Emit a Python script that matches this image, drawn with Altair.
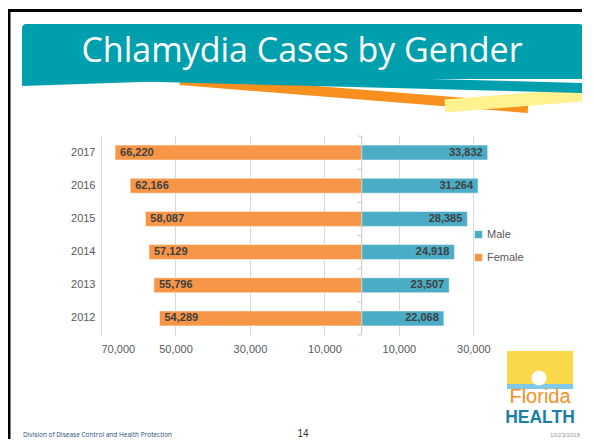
import altair as alt
import pandas as pd

years = ["2017", "2016", "2015", "2014", "2013", "2012"]
female = [66220, 62166, 58087, 57129, 55796, 54289]
male = [33832, 31264, 28385, 24918, 23507, 22068]
x_ticks = [-70000, -50000, -30000, -10000, 10000, 30000]
series = ["Male", "Female"]
colors = ["#4BACC6", "#F79646"]

rows = []
for y, f, m in zip(years, female, male):
    rows.append({"year": y, "sex": "Female", "value": -f, "label": f"{f:,}"})
    rows.append({"year": y, "sex": "Male", "value": m, "label": f"{m:,}"})
df = pd.DataFrame(rows)

# page -> plot coordinates (plot origin at page (101,136))
OX, OY = 101, 136
def px(v):
    return v - OX
def py(v):
    return v - OY

one = alt.Data(values=[{"k": 1}])
FONT = "Liberation Sans"

xscale = alt.Scale(domain=[-70000, 35000], nice=False, zero=False)
yscale = alt.Scale(paddingInner=0.55, paddingOuter=0.275)

X = alt.X("value:Q", scale=xscale,
          axis=alt.Axis(values=x_ticks, labelExpr="format(abs(datum.value), ',')",
                        grid=True, gridColor="#d9d9d9", domain=False, ticks=False,
                        labelFontSize=11, labelColor="#595959", labelFont=FONT,
                        labelPadding=8, title=None))
Y = alt.Y("year:N", sort=years, scale=yscale,
          axis=alt.Axis(domain=False, ticks=False, labelPadding=6, labelFontSize=11,
                        labelColor="#595959", labelFont=FONT, title=None, grid=False))

base = alt.Chart(df)

bars = base.mark_bar(stroke="#ffffff", strokeOpacity=0.5, strokeWidth=1).encode(
    x=X, x2=alt.datum(0), y=Y,
    color=alt.Color("sex:N", scale=alt.Scale(domain=series, range=colors),
                    legend=alt.Legend(title=None, orient="none", legendX=px(473), legendY=py(229),
                                      symbolType="square", symbolSize=55, symbolStrokeWidth=0,
                                      labelFontSize=11, labelColor="#595959", labelFont=FONT,
                                      rowPadding=11, padding=0, labelOffset=3)),
)

lab_f = base.transform_filter(alt.datum.sex == "Female").mark_text(
    align="left", dx=5, fontWeight="bold", fontSize=11, font=FONT, color="#404040"
).encode(x=alt.X("value:Q", scale=xscale), y=alt.Y("year:N", sort=years, scale=yscale), text="label:N")

lab_m = base.transform_filter(alt.datum.sex == "Male").mark_text(
    align="right", dx=-5, fontWeight="bold", fontSize=11, font=FONT, color="#404040"
).encode(x=alt.X("value:Q", scale=xscale), y=alt.Y("year:N", sort=years, scale=yscale), text="label:N")

zero = alt.Chart(one).mark_rule(color="#c8c8c8", strokeWidth=1).encode(x=alt.datum(0))

ticks_top = base.transform_filter(alt.datum.sex == "Male").mark_rule(
    color="#c8c8c8", yOffset=-9).encode(
    x=alt.datum(-1100), x2=alt.datum(0),
    y=alt.Y("year:N", sort=years, scale=yscale, bandPosition=0))
ticks_bot = base.transform_filter(alt.datum.year == "2012").transform_filter(
    alt.datum.sex == "Male").mark_rule(color="#c8c8c8", yOffset=9).encode(
    x=alt.datum(-1100), x2=alt.datum(0),
    y=alt.Y("year:N", sort=years, scale=yscale, bandPosition=1))

# --- slide decorations ---
frame_left = alt.Chart(one).mark_rule(color="#000000", strokeWidth=3).encode(
    x=alt.value(px(9)), y=alt.value(py(9)), y2=alt.value(py(460)))
frame_top = alt.Chart(one).mark_rule(color="#000000", strokeWidth=3).encode(
    x=alt.value(px(8)), x2=alt.value(px(600)), y=alt.value(py(10.5)))

TEAL = "#009FAE"
orange = alt.Chart(one).mark_rule(color="#F7901E", strokeWidth=10).encode(
    x=alt.value(px(180)), x2=alt.value(px(528)), y=alt.value(py(80)), y2=alt.value(py(108)))
yellow = alt.Chart(one).mark_rule(color="#FFF28F", strokeWidth=13).encode(
    x=alt.value(px(445)), x2=alt.value(px(583)), y=alt.value(py(106)), y2=alt.value(py(95)))
teal_wedge = alt.Chart(one).mark_rule(color=TEAL, strokeWidth=10).encode(
    x=alt.value(px(120)), x2=alt.value(px(583)), y=alt.value(py(76)), y2=alt.value(py(88)))
teal_left = alt.Chart(one).mark_rule(color=TEAL, strokeWidth=8).encode(
    x=alt.value(px(22)), x2=alt.value(px(200)), y=alt.value(py(82)), y2=alt.value(py(76)))
banner = alt.Chart(one).mark_rect(color=TEAL, cornerRadiusTopLeft=4, cornerRadiusTopRight=4).encode(
    x=alt.value(px(22)), x2=alt.value(px(583)), y=alt.value(py(24)), y2=alt.value(py(79)))

title = alt.Chart(one).mark_text(text="Chlamydia Cases by Gender", font="Open Sans", fontSize=34,
                                  color="#ffffff", align="center", baseline="alphabetic").encode(
    x=alt.value(px(302)), y=alt.value(py(62)))

footer_l = alt.Chart(one).mark_text(text="Division of Disease Control and Health Protection",
                                     font="Open Sans", fontSize=6.5, color="#1F4E79", align="left").encode(
    x=alt.value(px(23)), y=alt.value(py(435)))
footer_c = alt.Chart(one).mark_text(text="14", font=FONT, fontSize=10, color="#333333").encode(
    x=alt.value(px(303)), y=alt.value(py(434)))
footer_r = alt.Chart(one).mark_text(text="10/23/2018", font=FONT, fontSize=6, color="#9a9a9a",
                                     align="right").encode(
    x=alt.value(px(580)), y=alt.value(py(435)))

sun_bg = alt.Chart(one).mark_rect(color="#F9D84A").encode(
    x=alt.value(px(507)), x2=alt.value(px(573)), y=alt.value(py(351)), y2=alt.value(py(387)))
sea = alt.Chart(one).mark_rect(color="#7FC8E8").encode(
    x=alt.value(px(507)), x2=alt.value(px(573)), y=alt.value(py(384)), y2=alt.value(py(389)))
sun = alt.Chart(one).mark_point(filled=True, color="#ffffff", opacity=1, size=230, shape="circle").encode(
    x=alt.value(px(539)), y=alt.value(py(378)))
florida = alt.Chart(one).mark_text(text="Florida", font=FONT,
                                    fontSize=20, color="#F7901E", baseline="alphabetic").encode(
    x=alt.value(px(540)), y=alt.value(py(403)))
health = alt.Chart(one).mark_text(text="HEALTH", font=FONT,
                                   fontSize=17.5, fontWeight="bold",
                                   color="#1A7FA6", baseline="alphabetic").encode(
    x=alt.value(px(540)), y=alt.value(py(423)))

chart = alt.layer(
    frame_left, frame_top, orange, yellow, teal_wedge, teal_left, banner, title,
    bars, zero, ticks_top, ticks_bot, lab_f, lab_m,
    footer_l, footer_c, footer_r, sun_bg, sea, sun, florida, health,
).properties(
    width=391, height=199,
    autosize=alt.AutoSizeParams(type="none"),
    padding={"left": OX - 8, "top": OY - 8, "right": 90, "bottom": 104},
    background="#ffffff",
).configure_view(stroke=None)

chart.save("out.html", embed_options={"renderer": "svg", "actions": False})
